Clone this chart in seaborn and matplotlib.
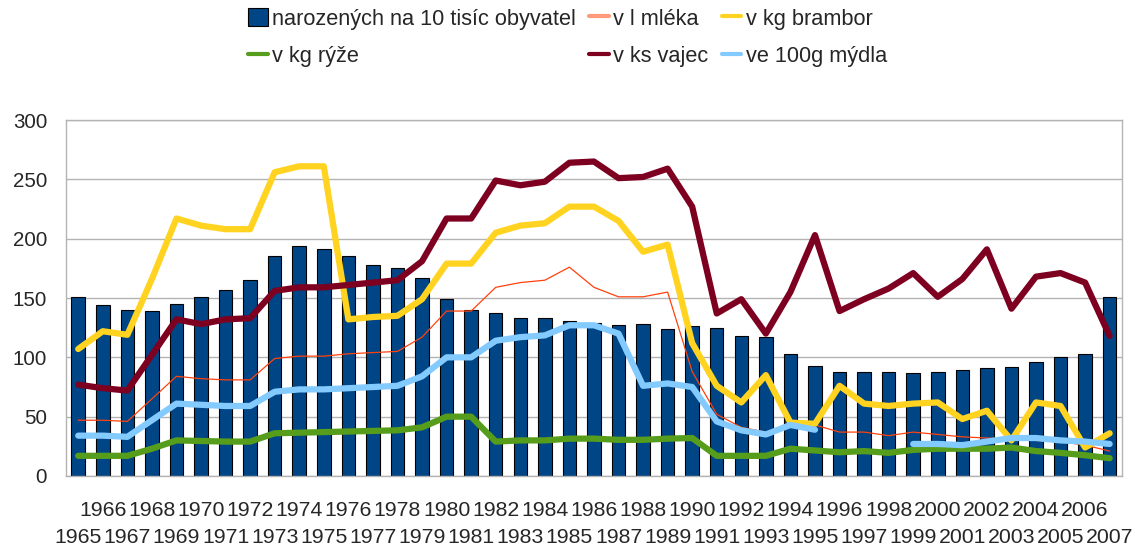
import matplotlib
matplotlib.use("Agg")
import matplotlib.pyplot as plt
import numpy as np
import pandas as pd
import seaborn as sns

years = [str(y) for y in range(1965, 2008)]

narozeni = [151, 144, 140, 139, 145, 151, 157, 165, 185, 194, 191, 185, 178, 175,
            167, 149, 140, 137, 133, 133, 131, 129, 127, 128, 124, 126, 125, 118, 117,
            103, 93, 88, 88, 88, 87, 88, 89, 91, 92, 96, 100, 103, 151]
mleko = [47, 47, 46, 65, 84, 82, 81, 81, 99, 101, 101, 103, 104, 105,
         117, 139, 139, 159, 163, 165, 176, 159, 151, 151, 155, 88, 52, 41, 37,
         44, 43, 37, 37, 34, 37, 35, 33, 32, 31, 30, 29, 26, 21]
brambory = [107, 122, 119, 166, 217, 211, 208, 208, 256, 261, 261, 132, 134, 135,
            149, 179, 179, 205, 211, 213, 227, 227, 215, 189, 195, 112, 76, 62, 85,
            45, 44, 76, 61, 59, 61, 62, 48, 55, 30, 62, 59, 24, 36]
ryze = [17, 17, 17, 23, 30, 29.5, 29, 29, 36, 36.5, 37, 37.5, 38, 38.5,
        41, 50, 50, 29, 30, 30, 31.5, 31.5, 30.5, 30.5, 31.5, 32, 17, 17, 17,
        23, 21.5, 20, 21, 19.5, 22, 23, 23, 23, 24, 21, 19.5, 17.5, 15]
vejce = [77, 74, 72, 102, 132, 128, 132, 133, 156, 159, 159, 161, 163, 165,
         181, 217, 217, 249, 245, 248, 264, 265, 251, 252, 259, 227, 137, 149, 120,
         155, 203, 139, 149, 158, 171, 151, 166, 191, 141, 168, 171, 163, 118]
mydlo = [34, 34, 33, 47, 61, 60, 59, 59, 71, 73, 73, 74, 75, 76,
         84, 100, 100, 114, 117, 118.5, 127, 127, 120, 76, 78, 75, 46, 38.5, 35,
         43, 39, np.nan, np.nan, np.nan, 27, 27, 26, 29, 32, 32, 30, 29, 27]

df = pd.DataFrame({
    "rok": years, "pos": np.arange(len(years)), "narozeni": narozeni,
    "mleko": mleko, "brambory": brambory, "ryze": ryze, "vejce": vejce, "mydlo": mydlo,
})

sns.set_style("white")
plt.rcParams["font.family"] = ["Liberation Sans", "DejaVu Sans"]
grey = "#b3b3b3"

fig = plt.figure(figsize=(11.35, 5.47), dpi=100)
ax = fig.add_axes([0.0581, 0.1298, 0.9304, 0.6508])

sns.barplot(data=df, x="rok", y="narozeni", color="#004586", saturation=1,
            width=0.55, edgecolor="black", linewidth=0.8,
            label="narozených na 10 tisíc obyvatel", ax=ax, zorder=2)

sns.lineplot(data=df, x="pos", y="mleko", color="#ff420e", linewidth=0.9,
             label="v l mléka", ax=ax, zorder=3)
sns.lineplot(data=df, x="pos", y="brambory", color="#ffd320", linewidth=4.5,
             label="v kg brambor", ax=ax, zorder=3)
sns.lineplot(data=df, x="pos", y="ryze", color="#579d1c", linewidth=4.5,
             label="v kg rýže", ax=ax, zorder=3)
sns.lineplot(data=df, x="pos", y="vejce", color="#7e0021", linewidth=4.5,
             label="v ks vajec", ax=ax, zorder=3)
# mýdlo has a gap in the data -> draw the two pieces separately
part1 = df[df["pos"] <= 30]
part2 = df[df["pos"] >= 34]
sns.lineplot(data=part1, x="pos", y="mydlo", color="#83caff", linewidth=4.5,
             label="ve 100g mýdla", ax=ax, zorder=3)
sns.lineplot(data=part2, x="pos", y="mydlo", color="#83caff", linewidth=4.5,
             ax=ax, zorder=3)

ax.set_xlim(-0.5, len(years) - 0.5)
ax.set_ylim(0, 300)
ax.set_yticks(range(0, 301, 50))
ax.set_xlabel("")
ax.set_ylabel("")
ax.yaxis.grid(True, color=grey, linewidth=1)
ax.set_axisbelow(True)
for s in ax.spines.values():
    s.set_color(grey)
    s.set_linewidth(1)

# two rows of year labels: even years on top, odd years below
pos = np.arange(len(years))
ax.set_xticks(pos[1::2])
ax.set_xticklabels(years[1::2], fontsize=15.3)
ax.set_xticks(np.arange(-0.5, len(years), 1), minor=True)
ax.tick_params(axis="x", which="major", length=0, pad=18)
ax.tick_params(axis="x", which="minor", length=8, color=grey, width=1)
ax.tick_params(axis="y", length=8.5, color=grey, width=1, pad=5, labelsize=14.8)

sec = ax.secondary_xaxis("bottom")
sec.set_xticks(pos[0::2])
sec.set_xticklabels(years[0::2], fontsize=15.3)
sec.tick_params(axis="x", length=0, pad=37.5)
sec.spines["bottom"].set_visible(False)

handles, lbls = ax.get_legend_handles_labels()
order = {l: h for h, l in zip(handles, lbls)}
names = ["narozených na 10 tisíc obyvatel", "v kg rýže", "v l mléka",
         "v ks vajec", "v kg brambor", "ve 100g mýdla"]
ax.get_legend().remove()
leg = fig.legend([order[n] for n in names], names, ncol=3, loc="center",
                 bbox_to_anchor=(0.5, 0.931), frameon=False, fontsize=15.7,
                 handlelength=0.9, handletextpad=0.2, columnspacing=0.6,
                 labelspacing=0.75, handleheight=0.9)
for h in leg.legend_handles:
    if not hasattr(h, "get_height"):
        h.set_linewidth(3)
leg.legend_handles[2].set_color("#ff9a7a")

fig.savefig("out.png", dpi=100)
